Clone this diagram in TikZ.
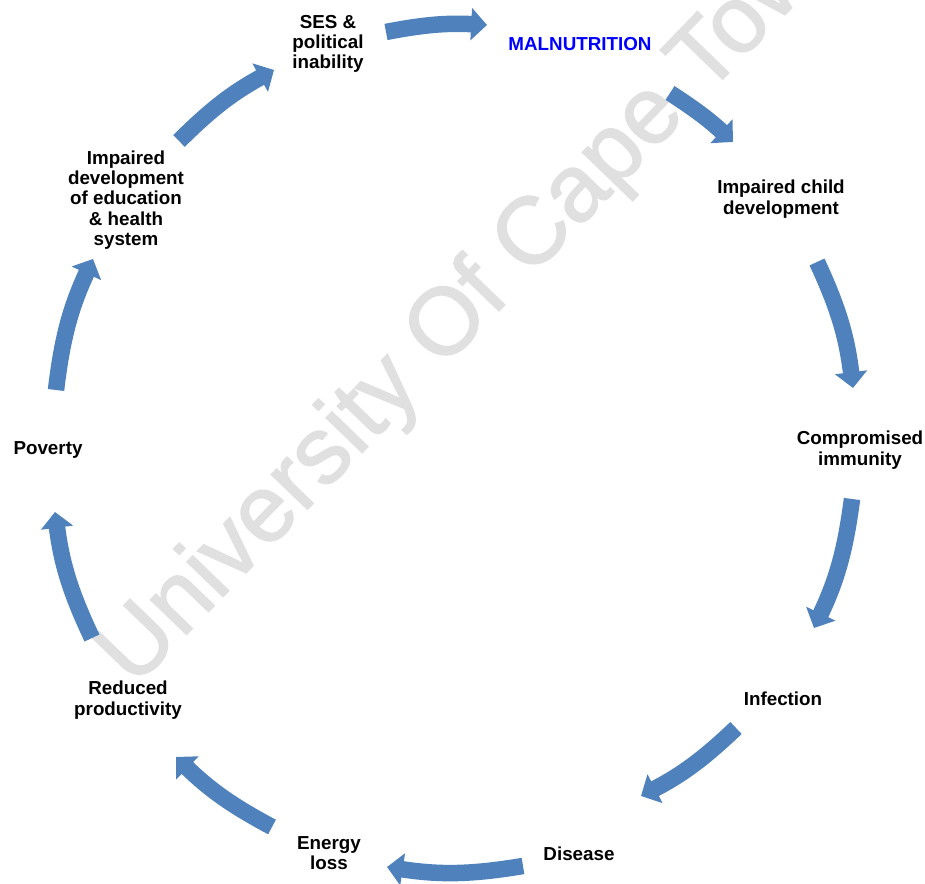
\documentclass[tikz,border=0pt]{standalone}
\usepackage{fontspec}
\setmainfont{Liberation Sans}
\newfontfamily\markfont[FakeBold=1.5]{Liberation Sans}
\usetikzlibrary{arrows.meta}
\definecolor{flowblue}{RGB}{79,129,189}
\definecolor{watermark}{RGB}{224,224,224}
\definecolor{malblue}{RGB}{0,0,255}

\begin{document}
\begin{tikzpicture}[x=0.02cm,y=0.02cm,
  factor/.style={font=\bfseries\fontsize{10.7}{11.6}\selectfont,align=center,inner sep=0pt},
  flow/.style={draw=flowblue,line width=9.4pt,-{Triangle[width=18pt,length=9pt]}}]

  \useasboundingbox (0,0) rectangle (925,884);

  \node[font=\markfont\fontsize{54}{54}\selectfont,text=watermark,rotate=46,anchor=base] (uct) at (497,571) {University Of Cape Town};

  % Cycle factors
  \node[factor] (ses) at (328,840) {SES \&\\political\\inability};
  \node[factor,text=malblue] (mal) at (580,840) {MALNUTRITION};
  \node[factor] (child) at (781,685) {Impaired child\\development};
  \node[factor] (immun) at (860,434) {Compromised\\immunity};
  \node[factor] (infect) at (783,185) {Infection};
  \node[factor] (disease) at (579,30) {Disease};
  \node[factor] (energy) at (329,31) {Energy\\loss};
  \node[factor] (reduced) at (128,184) {Reduced\\productivity};
  \node[factor] (poverty) at (48,434) {Poverty};
  \node[factor] (eduhealth) at (126,684) {Impaired\\development\\of education\\\& health\\system};

  % Arrow ends
  \coordinate (t1) at (386,852);  \coordinate (h1) at (487,859);
  \coordinate (t2) at (670,791);  \coordinate (h2) at (733,742);
  \coordinate (t3) at (817,622);  \coordinate (h3) at (853,496);
  \coordinate (t4) at (852,385);  \coordinate (h4) at (814,256);
  \coordinate (t5) at (736,156);  \coordinate (h5) at (641,88);
  \coordinate (t6) at (523,18);   \coordinate (h6) at (387,17);
  \coordinate (t7) at (272,57);   \coordinate (h7) at (176,127);
  \coordinate (t8) at (92,246);   \coordinate (h8) at (55,372);
  \coordinate (t9) at (56,494);   \coordinate (h9) at (93,625);
  \coordinate (t10) at (179,743); \coordinate (h10) at (274,814);

  \foreach \i/\b in {1/7,2/5,3/9,4/9,5/8,6/9,7/8,8/9,9/9,10/8}
    \draw[flow] (t\i) to[bend left=\b] (h\i);

\end{tikzpicture}
\end{document}
